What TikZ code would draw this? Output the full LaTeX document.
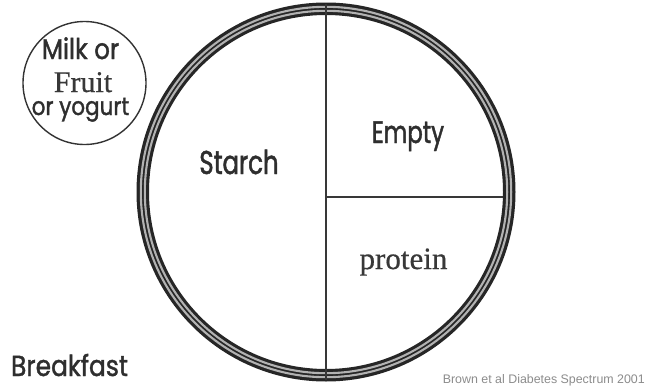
\documentclass[tikz,border=0pt]{standalone}
\usepackage{fontspec}
\setmainfont{Liberation Serif}[FakeBold=0.6]
\newfontfamily\futura{Poppins}[FakeStretch=0.74, FakeBold=1.4]
\newfontfamily\futurab{Poppins}[FakeStretch=0.86, FakeBold=1.4]
\newfontfamily\arialf{Liberation Sans}
\begin{document}
\begin{tikzpicture}[x=1pt,y=-1pt,
  sanslbl/.style={anchor=base, inner sep=0pt, text=black!82},
  seriflbl/.style={anchor=base, inner sep=0pt, text=black!78},
  divider/.style={draw=black!78, line width=1.8pt}]
\useasboundingbox (0,0) rectangle (646,386);
\fill[white] (0,0) rectangle (646,386);
\coordinate (c) at (326,192);
% plate rim
\fill[black!85, even odd rule] (c) circle[radius=189.5] (c) circle[radius=177];
\draw[black!30, line width=2.1pt] (c) circle[radius=185.2];
\draw[black!30, line width=2.1pt] (c) circle[radius=181.2];
% dividers
\coordinate (top) at (326,4);
\coordinate (bot) at (326,380);
\coordinate (mid) at (326,197);
\coordinate (right) at (503,197);
\draw[divider] (top) -- (bot);
\draw[divider] (mid) -- (right);
% side circle
\node[draw=black!80, line width=1.4pt, circle, minimum size=123pt, inner sep=0pt] (side) at (84.5,83) {};
\node[sanslbl, font=\futurab\fontsize{28.5}{30}\selectfont] (milk) at (80.5,59) {Milk or};
\node[seriflbl, font=\fontsize{30}{32}\selectfont] (fruit) at (83,92) {Fruit};
\node[sanslbl, font=\futurab\fontsize{25}{27}\selectfont] (yog) at (80.5,115) {or yogurt};
% labels
\node[sanslbl, font=\futura\fontsize{33}{36}\selectfont] (starch) at (239,174) {Starch};
\node[sanslbl, font=\futura\fontsize{31}{34}\selectfont] (empty) at (408,143) {Empty};
\node[seriflbl, font=\fontsize{31}{34}\selectfont] (protein) at (403.5,269) {protein};
\node[sanslbl, font=\futurab\fontsize{29}{32}\selectfont] (bf) at (69.5,376) {Breakfast};
\node[anchor=base east, inner sep=0pt, font=\arialf\fontsize{12.4}{14}\selectfont, text=black!45] (src) at (645,383) {Brown et al Diabetes Spectrum 2001};
\end{tikzpicture}
\end{document}
